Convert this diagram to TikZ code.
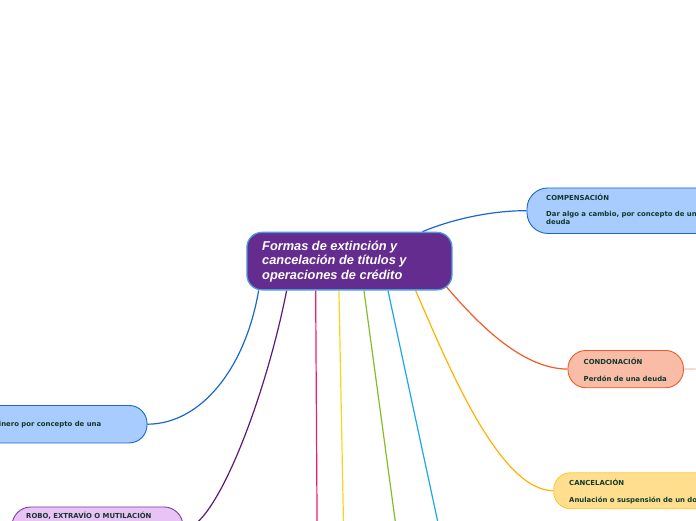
\documentclass[tikz,border=0pt]{standalone}
\usepackage{fontspec}
\setmainfont{Liberation Sans}
\newfontfamily\lblfont{DejaVu Sans}
\usetikzlibrary{backgrounds,calc}
\definecolor{cpurple}{HTML}{652C8F}
\definecolor{cborder}{HTML}{4A9BE0}
\definecolor{bluefill}{HTML}{A9CCFF}
\definecolor{blueline}{HTML}{1A66D0}
\definecolor{salfill}{HTML}{F9BCA7}
\definecolor{salline}{HTML}{F25A29}
\definecolor{sallight}{HTML}{F9C6B4}
\definecolor{yelfill}{HTML}{FFDF8E}
\definecolor{yelborder}{HTML}{FFC43D}
\definecolor{amber}{HTML}{FFB300}
\definecolor{lilfill}{HTML}{E9C2F6}
\definecolor{lilborder}{HTML}{7A3E9B}
\definecolor{purpline}{HTML}{5A1A78}
\definecolor{pinkline}{HTML}{EC1C6E}
\definecolor{yelline}{HTML}{F3D81A}
\definecolor{greenline}{HTML}{86BC25}
\definecolor{skyline}{HTML}{1AA7EC}
\definecolor{txtgreen}{HTML}{12392C}
\begin{document}
\begin{tikzpicture}[x=1pt,y=-1pt,
  box/.style={draw, line width=0.9pt, inner sep=0pt, anchor=north west},
  lbl/.style={inner sep=0pt, anchor=base west, text=txtgreen, font=\lblfont\bfseries\fontsize{6.9}{8}\selectfont},
  ttl/.style={inner sep=0pt, anchor=base west, text=white, font=\bfseries\itshape\fontsize{12.8}{14.7}\selectfont},
  conn/.style={line width=1.2pt}]
\useasboundingbox (0,0) rectangle (696,520);
\clip (0,0) rectangle (696,520);
% nodes
\node[box, draw=cborder, fill=cpurple, line width=1.3pt, rounded corners=15pt, minimum width=205pt, minimum height=57.5pt] (center) at (246.3,231.7) {};
\node[ttl] (t1) at (262,250) {Formas de extinción y};
\node[ttl] (t2) at (262,264.7) {cancelación de títulos y};
\node[ttl] (t3) at (262,279.3) {operaciones de crédito};

\node[box, draw=blueline, fill=bluefill, rounded corners=21pt, minimum width=250pt, minimum height=45.5pt] (comp) at (526.5,187.5) {};
\node[lbl] (compA) at (546,200.3) {COMPENSACIÓN};
\node[lbl] (compB) at (546,216.8) {Dar algo a cambio, por concepto de una};
\node[lbl] (compC) at (546,224.8) {deuda};

\node[box, draw=salline, fill=salfill, rounded corners=18pt, minimum width=115.5pt, minimum height=37.3pt] (cond) at (567.5,350) {};
\node[lbl] (condA) at (583.5,364) {CONDONACIÓN};
\node[lbl] (condB) at (583.5,381) {Perdón de una deuda};

\node[box, draw=yelborder, fill=yelfill, rounded corners=17pt, minimum width=200pt, minimum height=36pt] (canc) at (553.3,472.3) {};
\node[lbl] (cancA) at (569,485.6) {CANCELACIÓN};
\node[lbl] (cancB) at (569,502.5) {Anulación o suspensión de un documento};

\node[box, anchor=north east, draw=blueline, fill=bluefill, rounded corners=18pt, minimum width=250pt, minimum height=37.5pt] (left) at (147.5,405) {};
\node[lbl, anchor=base east] (leftA) at (101.5,426.5) {dinero por concepto de una};

\node[box, draw=lilborder, fill=lilfill, rounded corners=19pt, minimum width=171pt, minimum height=45pt] (robo) at (11.5,506.5) {};
\node[lbl] (roboA) at (26,518.2) {ROBO, EXTRAVÍO O MUTILACIÓN};

\coordinate (rend) at (705,368.7);
\coordinate (pk) at (317.3,560);
\coordinate (yl) at (344.2,560);
\coordinate (gr) at (400.5,560);
\coordinate (sk) at (446,560);

\begin{scope}[on background layer]
\draw[conn, blueline] ([xshift=73pt]center.north) .. controls (450,220) and (490,210.5) .. (comp.west);
\draw[conn, salline] ([xshift=-6.5pt,yshift=4pt]center.south east) .. controls (475,320) and (520,368.7) .. (cond.west);
\draw[conn, sallight] (cond.east) -- (rend);
\draw[conn, amber] ([xshift=66.2pt]center.south) .. controls (450,370) and (500,490.3) .. (canc.west);
\draw[conn, blueline] ([xshift=-90.8pt]center.south) .. controls (245,370) and (200,424) .. (left.east);
\draw[conn, purpline] ([xshift=-62.8pt]center.south) .. controls (265,400) and (215,529) .. (robo.east);
\draw[conn, pinkline] ([xshift=-33.8pt]center.south) -- (pk);
\draw[conn, yelline] ([xshift=-10.5pt]center.south) -- (yl);
\draw[conn, greenline] ([xshift=14.5pt]center.south) -- (gr);
\draw[conn, skyline] ([xshift=38.5pt]center.south) -- (sk);
\end{scope}
\end{tikzpicture}
\end{document}
